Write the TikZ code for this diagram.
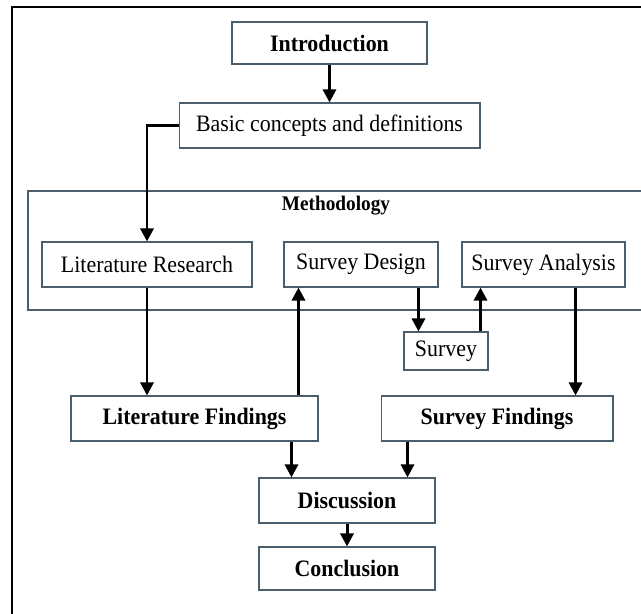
\documentclass[tikz,border=0pt]{standalone}
\usepackage{fontspec}
\setmainfont{Liberation Serif}[FakeStretch=0.93]
\usetikzlibrary{arrows.meta}
\definecolor{boxline}{HTML}{4A5E6C}

\begin{document}
\begin{tikzpicture}
  [x=0.02cm, y=-0.02cm,
   box/.style={draw=boxline, line width=0.6pt, rectangle, inner sep=0pt,
     minimum height=0.9cm, font=\fontsize{13.4}{15}\selectfont},
   boldbox/.style={box, font=\fontsize{13.4}{15}\selectfont\bfseries},
   arr/.style={->, >={Triangle[length=2.6mm,width=2.6mm]}, line width=1.7pt}]
  % page and outer frame, coordinates in pixels of the original
  \useasboundingbox (0,0) rectangle (641,614);
  \draw[line width=1.1pt] (12,614) |- (641,7);

  % methodology group
  \draw[draw=boxline, line width=0.6pt] (28,191) rectangle (680,310);
  \node[font=\fontsize{11.8}{13}\selectfont\bfseries] (methlabel) at (336,206) {Methodology};

  \node[boldbox, minimum width=3.9cm, minimum height=0.84cm] (intro) at (329.5,43) {Introduction};
  \node[box, minimum width=6.02cm] (basic) at (329.5,125.5) {Basic concepts and definitions};

  \node[box, minimum width=4.2cm] (litres) at (147,264.5) {Literature Research};
  \node[box, minimum width=3.08cm] (sdesign) at (361,264.5) {Survey Design};
  \node[box, minimum width=3.26cm] (sanal) at (543.5,264.5) {Survey Analysis};
  \node[box, minimum width=1.68cm, minimum height=0.76cm] (survey) at (446,351) {Survey};

  \node[boldbox, minimum width=4.94cm] (litfind) at (194.5,418.5) {Literature Findings};
  \node[boldbox, minimum width=4.64cm] (survfind) at (497,418.5) {Survey Findings};
  \node[boldbox, minimum width=3.52cm] (disc) at (347,500.5) {Discussion};
  \node[boldbox, minimum width=3.52cm, minimum height=0.86cm] (conc) at (347,568.5) {Conclusion};

  % anchors for the off-centre arrows
  \coordinate (lfup) at ([xshift=.3cm]sdesign.south west);
  \coordinate (sddown) at ([xshift=.3cm]survey.north west);
  \coordinate (svup) at ([xshift=-.16cm]survey.north east);
  \coordinate (sadown) at ([xshift=-1cm]sanal.south east);
  \coordinate (lfdown) at ([xshift=.66cm]disc.north west);
  \coordinate (sfdown) at ([xshift=.54cm]survfind.south west);

  \draw[arr] (intro) -- (basic);
  \draw[arr] (basic.west) -| (litres.north);
  \draw[arr] (litres.south) -- (litres.south |- litfind.north);
  \draw[arr] (lfup |- litfind.north) -- (lfup);
  \draw[arr] (sddown |- sdesign.south) -- (sddown);
  \draw[arr] (svup) -- (svup |- sanal.south);
  \draw[arr] (sadown) -- (sadown |- survfind.north);
  \draw[arr] (lfdown |- litfind.south) -- (lfdown);
  \draw[arr] (sfdown) -- (sfdown |- disc.north);
  \draw[arr] (disc) -- (conc);
\end{tikzpicture}
\end{document}
